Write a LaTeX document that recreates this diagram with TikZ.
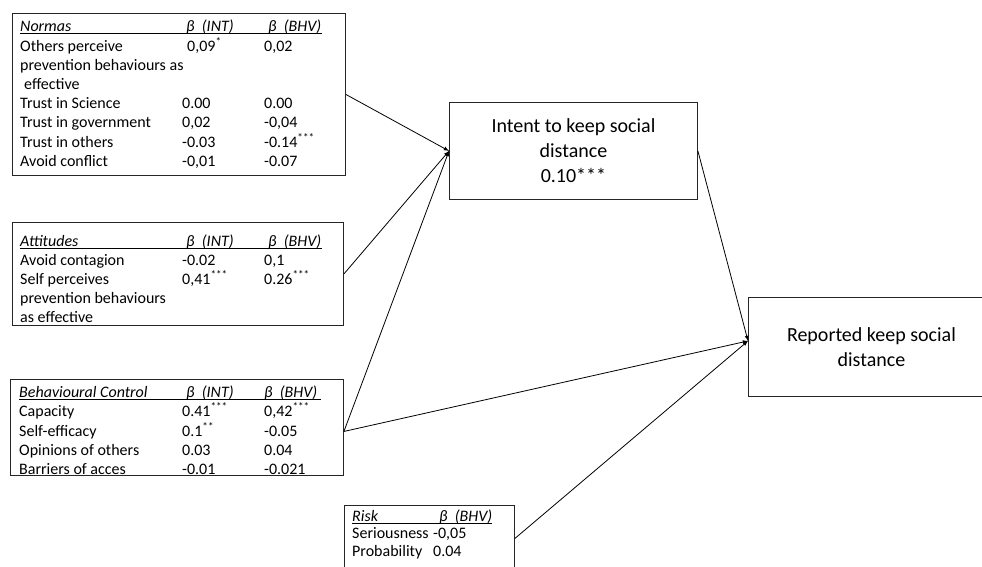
\documentclass[tikz,border=0pt]{standalone}
\usepackage{fontspec}
\setmainfont{Carlito}
\usetikzlibrary{arrows}
\newcommand{\ulbar}[1]{\leavevmode\rlap{\rule[-2.5pt]{#1}{0.9pt}}}
\tikzset{
  box/.style={draw=black!85, line width=0.9pt, anchor=north west, inner sep=0pt},
  tab/.style={anchor=base west, inner sep=0pt, font=\fontsize{16}{19}\selectfont},
  big/.style={align=center, font=\fontsize{20}{25}\selectfont},
  arr/.style={-latex, line width=0.8pt}
}

\begin{document}
\begin{tikzpicture}[x=1pt,y=-1pt]
\clip (0,0) rectangle (982,567);
%方框
\node[box, minimum width=333pt, minimum height=162pt] (normas) at (12,13) {};
\node[box, minimum width=331pt, minimum height=103pt] (attitudes) at (12,222) {};
\node[box, minimum width=333pt, minimum height=96pt] (control) at (10,379) {};
\node[box, minimum width=170pt, minimum height=66pt] (risk) at (344,505) {};
\node[box, big, minimum width=248pt, minimum height=97pt] (intent) at (449,102) {Intent to keep social\\ distance\\ 0.10***};
\node[box, big, minimum width=246pt, minimum height=99pt] (reported) at (748,297) {Reported keep social\\ distance};

%表格
\node[tab] (normasTab) at (20,31.5) {\begin{tabular}[t]{@{}p{162pt}@{}p{82pt}@{}l@{}}
\ulbar{302pt}\textit{Normas} & \hspace{4pt}\textit{β\ \ (INT)} & \hspace{4pt}\textit{β\ \ (BHV)}\\
Others perceive & \hspace{5pt}0,09\textsuperscript{*} & 0,02\\
\multicolumn{3}{@{}l@{}}{prevention behaviours as}\\
\hspace{4pt}effective & & \\
Trust in Science & 0.00 & 0.00\\
Trust in government & 0,02 & -0,04\\
Trust in others & -0.03 & -0.14\textsuperscript{***}\\
Avoid conflict & -0,01 & -0.07
\end{tabular}};

\node[tab] (attitudesTab) at (20,246) {\begin{tabular}[t]{@{}p{162pt}@{}p{82pt}@{}l@{}}
\ulbar{302pt}\textit{Attitudes} & \hspace{4pt}\textit{β\ \ (INT)} & \hspace{4pt}\textit{β\ \ (BHV)}\\
Avoid contagion & -0.02 & 0,1\\
Self perceives & 0,41\textsuperscript{***} & 0.26\textsuperscript{***}\\
prevention behaviours & & \\
as effective & &
\end{tabular}};

\node[tab] (controlTab) at (19,397) {\begin{tabular}[t]{@{}p{163pt}@{}p{82pt}@{}l@{}}
\ulbar{302pt}\textit{Behavioural Control} & \hspace{4pt}\textit{β\ \ (INT)} & \textit{β\ \ (BHV)}\\
Capacity & 0.41\textsuperscript{***} & 0,42\textsuperscript{***}\\
Self-efficacy & 0.1\textsuperscript{**} & -0.05\\
Opinions of others & 0.03 & 0.04\\
Barriers of acces & -0.01 & -0.021
\end{tabular}};

\node[tab, font=\fontsize{16}{17.5}\selectfont] (riskTab) at (352,521) {\begin{tabular}[t]{@{}p{81pt}@{}l@{}}
\ulbar{140pt}\textit{Risk} & \makebox[59pt][r]{\textit{β\ \ (BHV)}}\\
Seriousness & -0,05\\
Probability & 0.04
\end{tabular}};

%箭头
\draw[arr] (normas.east) -- (intent.west);
\draw[arr] (attitudes.east) -- (intent.west);
\draw[arr] ([yshift=-4pt]control.east) -- (intent.west);
\draw[arr] ([yshift=-4pt]control.east) -- ([yshift=6pt]reported.west);
\draw[arr] (intent.east) -- ([yshift=6pt]reported.west);
\draw[arr] (risk.east) -- ([yshift=6pt]reported.west);
\end{tikzpicture}
\end{document}
